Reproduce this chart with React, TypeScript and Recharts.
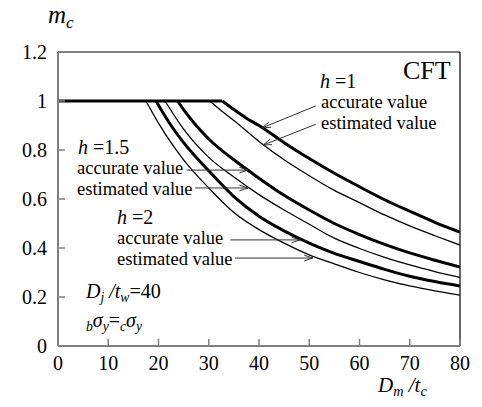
import { LineChart, Line, XAxis, YAxis, ReferenceLine } from 'recharts';

const xTicks = [0, 10, 20, 30, 40, 50, 60, 70, 80];
const yTicks = [0, 0.2, 0.4, 0.6, 0.8, 1, 1.2];

// [Dm/tc, mc]
const h1Accurate = [[32.7, 1], [35, 0.965], [37.5, 0.93], [40, 0.9], [45, 0.83], [50, 0.765], [55, 0.705], [60, 0.65], [65, 0.597], [70, 0.55], [75, 0.505], [80, 0.465]];
const h1Estimated = [[30.2, 1], [32.5, 0.96], [35, 0.92], [40, 0.835], [45, 0.76], [50, 0.695], [55, 0.635], [60, 0.585], [65, 0.535], [70, 0.49], [75, 0.45], [80, 0.412]];
const h15Accurate = [[23.8, 1], [25, 0.965], [27.5, 0.9], [30, 0.845], [35, 0.76], [40, 0.685], [45, 0.615], [50, 0.555], [55, 0.5], [60, 0.455], [65, 0.415], [70, 0.38], [75, 0.35], [80, 0.322]];
const h15Estimated = [[21.3, 1], [25, 0.885], [30, 0.77], [35, 0.69], [40, 0.618], [45, 0.555], [50, 0.497], [55, 0.44], [60, 0.398], [65, 0.362], [70, 0.331], [75, 0.304], [80, 0.28]];
const h2Accurate = [[19.5, 1], [22.5, 0.9], [25, 0.83], [30, 0.715], [35, 0.61], [40, 0.53], [45, 0.47], [50, 0.42], [55, 0.378], [60, 0.345], [65, 0.313], [70, 0.285], [75, 0.263], [80, 0.245]];
const h2Estimated = [[17.5, 1], [20, 0.91], [22.5, 0.83], [25, 0.76], [30, 0.645], [35, 0.545], [40, 0.475], [45, 0.42], [50, 0.372], [55, 0.335], [60, 0.3], [65, 0.27], [70, 0.245], [75, 0.225], [80, 0.208]];

// arrows: [tail, tip] in data units
const arrows = [
  [[51.3, 0.98], [40.6, 0.89]],
  [[51.3, 0.905], [40.8, 0.82]],
  [[25.6, 0.718], [37.8, 0.718]],
  [[27.3, 0.645], [37.8, 0.645]],
  [[34.3, 0.433], [48.2, 0.433]],
  [[35.2, 0.359], [50.7, 0.359]],
];

const toRows = (pts: number[][]) => pts.map(([x, m]) => ({ x, m }));

const W = 482;
const H = 407;
const M = { top: 52, right: 22, left: 0, bottom: 0 };
const Y_W = 58;
const X_H = 61;
const pxX = (W - M.right - Y_W) / 80;
const pxY = (H - M.top - X_H) / 1.2;

function headArms(tail: number[], tip: number[]) {
  const dx = (tip[0] - tail[0]) * pxX;
  const dy = -(tip[1] - tail[1]) * pxY;
  const len = Math.hypot(dx, dy);
  const ux = dx / len, uy = dy / len;
  const L = 9, a = 0.32;
  const arm = (s: number) => {
    const c = Math.cos(s * a), sn = Math.sin(s * a);
    const rx = -(ux * c - uy * sn), ry = -(ux * sn + uy * c);
    return { x: tip[0] + (rx * L) / pxX, y: tip[1] - (ry * L) / pxY };
  };
  return [arm(1), arm(-1)];
}

const serif = "'Liberation Serif', 'Times New Roman', Times, 'DejaVu Serif', serif";
const tickStyle = { fontFamily: serif, fontSize: 20, fill: '#000' };

// b = baseline in page pixels
function T({ x, b, size, children }: { x: number; b: number; size: number; children: any }) {
  return (
    <div style={{ position: 'absolute', left: x, top: b - 0.7125 * size, fontSize: size, lineHeight: `${0.75 * size}px`, whiteSpace: 'nowrap', fontFamily: serif, color: '#000' }}>
      {children}
    </div>
  );
}

const I = ({ children }: { children: any }) => <i>{children}</i>;
const Sub = ({ children }: { children: any }) => (
  <span style={{ fontSize: '0.68em', position: 'relative', top: '0.28em', fontStyle: 'italic' }}>{children}</span>
);

export default function App() {
  const plateau = [{ x: 0, m: 1 }, { x: h1Accurate[0][0], m: 1 }];
  const curves = [
    { d: h1Accurate, w: 3 },
    { d: h1Estimated, w: 1.3 },
    { d: h15Accurate, w: 3 },
    { d: h15Estimated, w: 1.3 },
    { d: h2Accurate, w: 3 },
    { d: h2Estimated, w: 1.3 },
  ];
  return (
    <div style={{ position: 'absolute', left: 0, top: 0, width: W, height: H, background: '#fff' }}>
      <LineChart width={W} height={H} margin={M}>
        <XAxis
          type="number"
          dataKey="x"
          domain={[0, 80]}
          ticks={xTicks}
          height={X_H}
          tick={tickStyle}
          tickSize={-7}
          tickMargin={17}
          axisLine={{ stroke: '#808080', strokeWidth: 2 }}
          tickLine={{ stroke: '#808080', strokeWidth: 1.5 }}
          allowDataOverflow
        />
        <YAxis
          type="number"
          domain={[0, 1.2]}
          ticks={yTicks}
          width={Y_W}
          tick={tickStyle}
          tickSize={-7}
          tickMargin={18}
          axisLine={{ stroke: '#808080', strokeWidth: 2 }}
          tickLine={{ stroke: '#808080', strokeWidth: 1.5 }}
          allowDataOverflow
        />
        <ReferenceLine y={1.2} stroke="#000" strokeWidth={1.2} />
        <ReferenceLine x={80} stroke="#000" strokeWidth={1.2} />
        <Line data={plateau} dataKey="m" type="linear" stroke="#000" strokeWidth={3} dot={false} isAnimationActive={false} />
        {curves.map((c, i) => (
          <Line key={i} data={toRows(c.d)} dataKey="m" type="monotone" stroke="#000" strokeWidth={c.w} dot={false} isAnimationActive={false} />
        ))}
        {arrows.map(([tail, tip], i) => {
          const [a1, a2] = headArms(tail, tip);
          return [
            <ReferenceLine key={`s${i}`} segment={[{ x: tail[0], y: tail[1] }, { x: tip[0], y: tip[1] }]} stroke="#333" strokeWidth={1} />,
            <ReferenceLine key={`a${i}`} segment={[a1, { x: tip[0], y: tip[1] }]} stroke="#333" strokeWidth={1} />,
            <ReferenceLine key={`b${i}`} segment={[a2, { x: tip[0], y: tip[1] }]} stroke="#333" strokeWidth={1} />,
          ];
        })}
      </LineChart>

      <T x={48} b={24} size={25}><I>m</I><Sub>c</Sub></T>
      <T x={403} b={80} size={26}>CFT</T>

      <T x={320} b={88} size={20}><I>h</I> =1</T>
      <T x={321} b={109} size={18.5}>accurate value</T>
      <T x={321} b={130} size={18.5}>estimated value</T>

      <T x={78} b={154} size={20}><I>h</I> =1.5</T>
      <T x={77} b={175} size={18.5}>accurate value</T>
      <T x={77} b={196} size={18.5}>estimated value</T>

      <T x={117} b={224} size={20}><I>h</I> =2</T>
      <T x={117} b={245} size={18.5}>accurate value</T>
      <T x={117} b={266} size={18.5}>estimated value</T>

      <T x={86} b={298} size={20}><I>D</I><Sub>j</Sub> <I>/t</I><Sub>w</Sub>=40</T>
      <T x={86} b={327} size={20}><Sub>b</Sub><I>σ</I><Sub>y</Sub>=<Sub>c</Sub><I>σ</I><Sub>y</Sub></T>

      <T x={378} b={393} size={21}><I>D</I><Sub>m</Sub> <I>/t</I><Sub>c</Sub></T>
    </div>
  );
}
